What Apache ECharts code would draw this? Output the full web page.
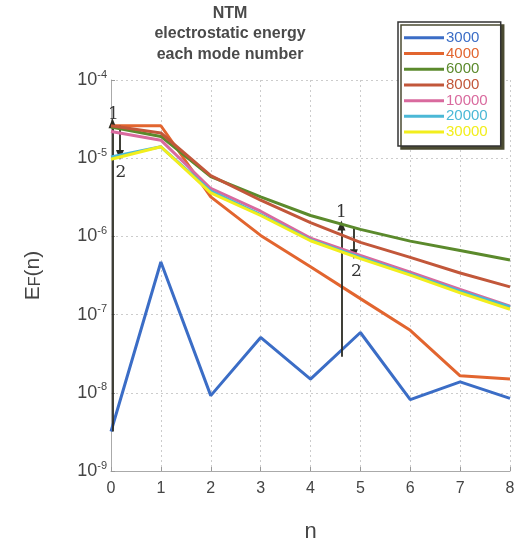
<!DOCTYPE html>
<html><head><meta charset="utf-8">
<script src="https://cdn.jsdelivr.net/npm/echarts@6/dist/echarts.min.js"></script>
<style>html,body{margin:0;padding:0;background:#fff}#c{width:528px;height:543px}</style>
</head><body><div id="c"></div>
<script>
const nValues = [0, 1, 2, 3, 4, 5, 6, 7, 8];
const seriesNames = ['3000', '4000', '6000', '8000', '10000', '20000', '30000'];
const seriesColors = ['#3b6dc6', '#e2652f', '#5b8a2c', '#c2573a', '#d96a9e', '#4bb8d6', '#f2ee1c'];
const s3000  = [3.2e-9, 4.7e-7, 9.2e-9, 5.1e-8, 1.5e-8, 5.9e-8, 8.2e-9, 1.38e-8, 8.5e-9];
const s4000  = [2.6e-5, 2.6e-5, 3.2e-6, 1.03e-6, 4.1e-7, 1.6e-7, 6.3e-8, 1.65e-8, 1.5e-8];
const s6000  = [2.5e-5, 1.9e-5, 5.8e-6, 3.2e-6, 1.85e-6, 1.23e-6, 8.7e-7, 6.6e-7, 5.0e-7];
const s8000  = [2.6e-5, 2.1e-5, 6.0e-6, 2.9e-6, 1.5e-6, 8.4e-7, 5.4e-7, 3.4e-7, 2.26e-7];
const s10000 = [2.2e-5, 1.7e-5, 4.1e-6, 2.1e-6, 9.5e-7, 5.7e-7, 3.5e-7, 2.1e-7, 1.28e-7];
const s20000 = [1.04e-5, 1.4e-5, 3.8e-6, 1.9e-6, 9.0e-7, 5.4e-7, 3.3e-7, 2.0e-7, 1.25e-7];
const s30000 = [9.7e-6, 1.4e-5, 3.6e-6, 1.85e-6, 8.8e-7, 5.2e-7, 3.2e-7, 1.9e-7, 1.17e-7];
const allSeries = [s3000, s4000, s6000, s8000, s10000, s20000, s30000];
const xTickLabels = ['0', '1', '2', '3', '4', '5', '6', '7', '8'];
// annotation arrows: [x, yFrom, yTo]
const arrowsLong = [[0.03, 3.2e-9, 2.8e-5], [4.62, 2.9e-8, 1.38e-6]];
const arrowsShort = [[0.18, 2.6e-5, 1.1e-5], [4.87, 1.27e-6, 5.9e-7]];
// annotation labels: [x, y, text]
const annLabels = [[0.05, 3.6e-5, '1'], [0.2, 6.6e-6, '2'], [4.62, 2.0e-6, '1'], [4.92, 3.6e-7, '2']];

const chart = echarts.init(document.getElementById('c'));
const lineSeries = seriesNames.map((nm, i) => ({
  name: nm, type: 'line', symbol: 'none', showSymbol: false, z: 3 + i,
  lineStyle: { color: seriesColors[i], width: 3 },
  itemStyle: { color: seriesColors[i] },
  data: nValues.map((n, j) => [n, allSeries[i][j]])
}));
const arrowColor = '#2b2b22';
const mkLines = [];
arrowsLong.concat(arrowsShort).forEach(a => {
  mkLines.push([{ coord: [a[0], a[1]], symbol: 'none' }, { coord: [a[0], a[2]], symbol: 'triangle', symbolSize: [8, 10] }]);
});
const annSeries = {
  name: 'ann', type: 'line', data: [], z: 2,
  markLine: {
    silent: true, symbol: ['none', 'triangle'], symbolSize: 9, precision: 12,
    lineStyle: { color: arrowColor, width: 1.8, type: 'solid', opacity: 1 },
    itemStyle: { color: arrowColor },
    label: { show: false },
    data: mkLines
  },
  markPoint: {
    silent: true, symbol: 'circle', symbolSize: 1,
    itemStyle: { color: 'rgba(0,0,0,0)' },
    label: { show: true, position: 'inside', color: '#333', fontFamily: 'DejaVu Serif', fontSize: 17, formatter: p => p.data.value },
    data: annLabels.map(l => ({ coord: [l[0], l[1]], value: l[2] }))
  }
};
chart.setOption({
  animation: false,
  backgroundColor: '#fff',
  title: {
    text: 'NTM\nelectrostatic energy\neach mode number',
    left: 230, top: 3, padding: 0, textAlign: 'center',
    textStyle: { fontFamily: 'Liberation Sans', fontSize: 16, fontWeight: 'bold', color: '#4a4a4a', lineHeight: 20.5 }
  },
  legend: {
    data: seriesNames.map((nm, i) => ({ name: nm, textStyle: { color: seriesColors[i] } })),
    orient: 'vertical', left: 398, top: 22,
    icon: 'rect',
    padding: [8, 13, 6, 6], itemGap: 0, itemWidth: 40, itemHeight: 3,
    backgroundColor: '#fff', borderColor: '#333', borderWidth: 1.5,
    shadowColor: '#4b4b32', shadowOffsetX: 3, shadowOffsetY: 3, shadowBlur: 0,
    textStyle: { fontFamily: 'Liberation Sans', fontSize: 15, lineHeight: 15.7, padding: [0, 0, 0, -3] }
  },
  grid: { left: 111, right: 18, top: 80, bottom: 72, containLabel: false, outerBoundsMode: 'none' },
  xAxis: {
    type: 'value', min: 0, max: 8, interval: 1,
    name: 'n', nameLocation: 'middle', nameGap: 50,
    nameTextStyle: { fontFamily: 'Liberation Sans', fontSize: 22, color: '#444' },
    axisLine: { show: true, lineStyle: { color: '#aaa', width: 1 } },
    axisTick: { show: true, inside: true, length: 4, lineStyle: { color: '#999' } },
    axisLabel: { fontFamily: 'Liberation Sans', fontSize: 16, color: '#444', margin: 10, formatter: v => xTickLabels[v] },
    splitLine: { show: true, lineStyle: { color: '#ccc', type: [2, 3], width: 1 } }
  },
  yAxis: {
    type: 'log', logBase: 10, min: 1e-9, max: 1e-4,
    name: '{e|E}{f|F}{e|(n)}', nameLocation: 'middle', nameGap: 67, nameRotate: 90,
    nameTextStyle: { rich: { e: { fontFamily: 'Liberation Sans', fontSize: 21, color: '#444' }, f: { fontFamily: 'Liberation Sans', fontSize: 16, color: '#444', padding: [6, 0, 0, 0] } } },
    axisLine: { show: true, lineStyle: { color: '#aaa', width: 1 } },
    axisTick: { show: true, inside: true, length: 4, lineStyle: { color: '#999' } },
    minorTick: { show: false },
    axisLabel: {
      margin: 4,
      formatter: v => { const e = Math.round(Math.log10(v)); return '{b|10}{s|' + e + '}'; },
      rich: {
        b: { fontFamily: 'Liberation Sans', fontSize: 18, color: '#444' },
        s: { fontFamily: 'Liberation Sans', fontSize: 11, color: '#444', padding: [0, 0, 11, 0] }
      }
    },
    splitLine: { show: true, lineStyle: { color: '#ccc', type: [2, 3], width: 1 } }
  },
  series: lineSeries.concat([annSeries])
});
</script></body></html>
